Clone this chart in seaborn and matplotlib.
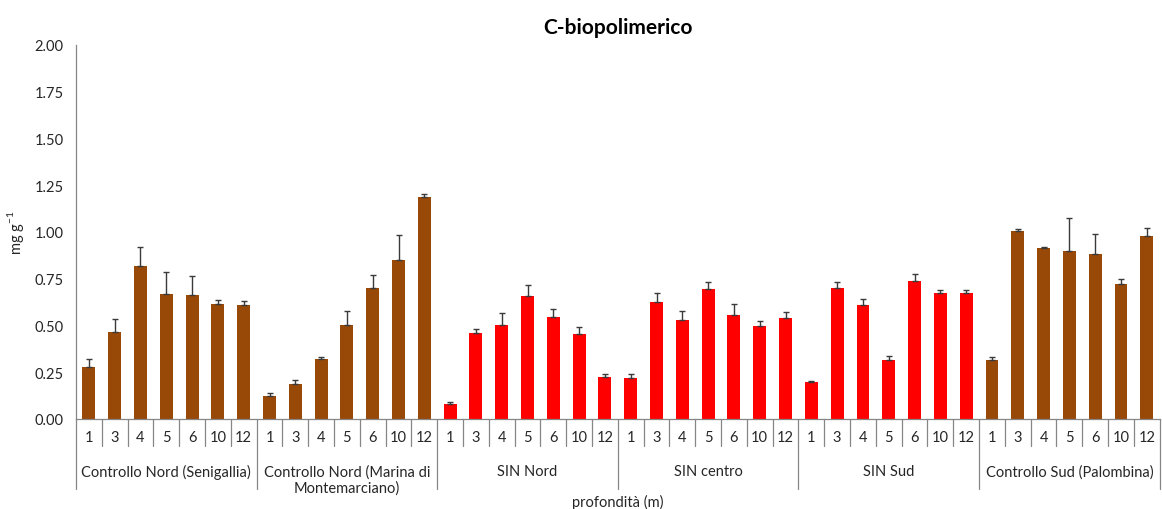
import matplotlib
matplotlib.use("Agg")
import matplotlib.pyplot as plt
import matplotlib.transforms as mtransforms
import numpy as np
import pandas as pd
import seaborn as sns

# Sampling depths (m) and sites
depths = ["1", "3", "4", "5", "6", "10", "12"]
sites = ["Controllo Nord (Senigallia)",
         "Controllo Nord (Marina di\nMontemarciano)",
         "SIN Nord", "SIN centro", "SIN Sud",
         "Controllo Sud (Palombina)"]
site_type = ["controllo", "controllo", "SIN", "SIN", "SIN", "controllo"]

# C-biopolimerico means (mg g-1) per site, by depth
cn_senigallia = [0.276, 0.463, 0.819, 0.669, 0.664, 0.613, 0.609]
cn_montemarciano = [0.125, 0.187, 0.322, 0.500, 0.698, 0.848, 1.188]
sin_nord = [0.082, 0.458, 0.500, 0.657, 0.547, 0.456, 0.223]
sin_centro = [0.221, 0.627, 0.531, 0.694, 0.557, 0.497, 0.541]
sin_sud = [0.198, 0.700, 0.607, 0.313, 0.735, 0.675, 0.673]
cs_palombina = [0.313, 1.003, 0.912, 0.896, 0.880, 0.723, 0.978]

# Standard deviations (upper error bars)
sd_cn_senigallia = [0.043, 0.073, 0.100, 0.115, 0.100, 0.021, 0.020]
sd_cn_montemarciano = [0.012, 0.021, 0.011, 0.079, 0.070, 0.135, 0.016]
sd_sin_nord = [0.007, 0.024, 0.064, 0.060, 0.041, 0.037, 0.017]
sd_sin_centro = [0.019, 0.048, 0.044, 0.036, 0.057, 0.028, 0.031]
sd_sin_sud = [0.007, 0.032, 0.034, 0.025, 0.038, 0.016, 0.018]
sd_cs_palombina = [0.017, 0.014, 0.008, 0.180, 0.107, 0.025, 0.041]

means = [cn_senigallia, cn_montemarciano, sin_nord, sin_centro, sin_sud, cs_palombina]
sds = [sd_cn_senigallia, sd_cn_montemarciano, sd_sin_nord, sd_sin_centro,
       sd_sin_sud, sd_cs_palombina]

rows = []
for i, site in enumerate(sites):
    for j, d in enumerate(depths):
        rows.append({"key": f"{i}-{d}", "depth": d, "site": site,
                     "type": site_type[i], "value": means[i][j], "sd": sds[i][j]})
df = pd.DataFrame(rows)
order = list(df["key"])
n = len(order)

sns.set_style("white")
plt.rcParams["font.family"] = ["Lato", "DejaVu Sans"]

fig = plt.figure(figsize=(11.62, 5.10), dpi=100)
ax = fig.add_axes([0.0654, 0.1765, 0.9326, 0.7340])

sns.barplot(data=df, x="key", y="value", hue="type", order=order,
            palette={"controllo": "#984807", "SIN": "#FF0000"},
            saturation=1, width=0.5, dodge=False, legend=False,
            errorbar=None, linewidth=0, ax=ax)

xpos = np.arange(n)
ax.errorbar(xpos, df["value"], yerr=[np.zeros(n), df["sd"]], fmt="none",
            ecolor="#3a3a3a", elinewidth=1.0, capsize=2.2, capthick=1.0)

grey = "#868686"
text_c = "#262626"

ax.set_xlim(-0.5, n - 0.5)
ax.set_ylim(0, 2.0)
ax.set_yticks(np.arange(0, 2.01, 0.25))
ax.set_yticklabels([f"{v:.2f}" for v in np.arange(0, 2.01, 0.25)])
ax.tick_params(axis="y", direction="out", length=4, width=0.8, color=grey,
               labelsize=10.5, labelcolor=text_c, pad=5)
ax.set_xticks(xpos, labels=list(df["depth"]))
ax.tick_params(axis="x", length=0, labelsize=10.5, labelcolor=text_c, pad=8)
for s in ["top", "right"]:
    ax.spines[s].set_visible(False)
for s in ["left", "bottom"]:
    ax.spines[s].set_color(grey)
    ax.spines[s].set_linewidth(0.9)

ax.set_xlabel("")
ax.set_ylabel(r"mg g$^{\mathregular{-1}}$", fontsize=10.5, color=text_c,
              labelpad=6)

# Category separators beneath the axis
trans = mtransforms.blended_transform_factory(ax.transData, ax.transAxes)
for k in range(n + 1):
    x = k - 0.5
    bottom = -0.187 if k % 7 == 0 else -0.072
    ax.plot([x, x], [0, bottom], transform=trans, color=grey, lw=0.9,
            clip_on=False)

for i, site in enumerate(sites):
    ax.text(i * 7 + 3, -0.12, site, transform=trans, ha="center", va="top",
            fontsize=10.5, color=text_c, linespacing=1.2)

ax.text((n - 1) / 2, -0.20, "profondità (m)", transform=trans, ha="center",
        va="top", fontsize=10.5, color=text_c)

fig.suptitle("C-biopolimerico", x=0.532, y=0.965, fontsize=15,
             fontweight="bold", color="#000000")

fig.savefig("out.png", dpi=100, facecolor="white")
